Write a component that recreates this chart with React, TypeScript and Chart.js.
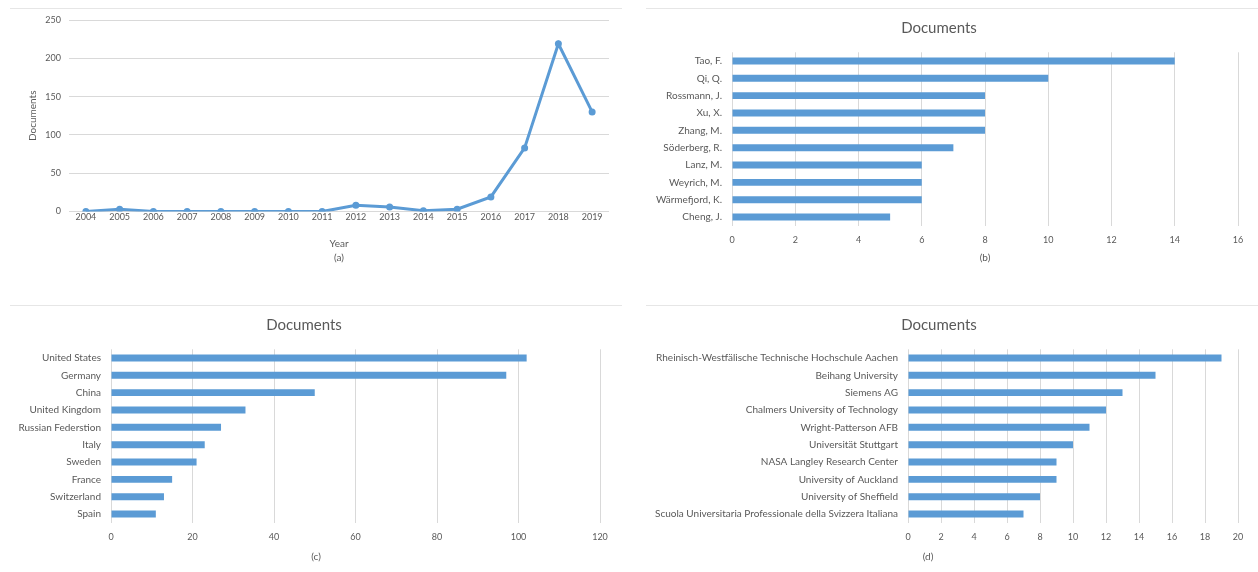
import React, { useEffect, useRef } from "react";
import { Chart, registerables } from "chart.js";

Chart.register(...registerables);

// ---------------- data ----------------
const years = ["2004", "2005", "2006", "2007", "2008", "2009", "2010", "2011", "2012", "2013", "2014", "2015", "2016", "2017", "2018", "2019"];
const yearDocs = [0, 3, 0, 0, 0, 0, 0, 0, 8, 6, 1, 3, 19, 83, 219, 130];

const authors = ["Tao, F.", "Qi, Q.", "Rossmann, J.", "Xu, X.", "Zhang, M.", "Söderberg, R.", "Lanz, M.", "Weyrich, M.", "Wärmefjord, K.", "Cheng, J."];
const authorDocs = [14, 10, 8, 8, 8, 7, 6, 6, 6, 5];

const countries = ["United States", "Germany", "China", "United Kingdom", "Russian Federstion", "Italy", "Sweden", "France", "Switzerland", "Spain"];
const countryDocs = [102, 97, 50, 33, 27, 23, 21, 15, 13, 11];

const affiliations = [
  "Rheinisch-Westfälische Technische Hochschule Aachen",
  "Beihang University",
  "Siemens AG",
  "Chalmers University of Technology",
  "Wright-Patterson AFB",
  "Universität Stuttgart",
  "NASA Langley Research Center",
  "University of Auckland",
  "University of Sheffield",
  "Scuola Universitaria Professionale della Svizzera Italiana",
];
const affiliationDocs = [19, 15, 13, 12, 11, 10, 9, 9, 8, 7];

const axisA = { max: 250, step: 50 };
const axisB = { max: 16, step: 2 };
const axisC = { max: 120, step: 20 };
const axisD = { max: 20, step: 2 };

const seriesTitle = "Documents";
const captions = ["(a)", "(b)", "(c)", "(d)"];

// ---------------- style ----------------
const FONT = "Lato, 'Open Sans', sans-serif";
const TEXT = "#595959";
const GRID = "#D9D9D9";
const BLUE = "#5B9BD5";

type Box = { l: number; t: number; r: number; b: number };

const captionPlugin = {
  id: "caption",
  afterDraw(chart: any, _args: any, opts: any) {
    const ctx = chart.ctx;
    ctx.save();
    ctx.font = `${opts.size}px ${FONT}`;
    ctx.fillStyle = TEXT;
    ctx.textAlign = "center";
    ctx.textBaseline = "middle";
    ctx.fillText(opts.text, opts.x, opts.y);
    ctx.restore();
  },
};

function lineConfig(C: Box, P: Box) {
  const xAxisH = 38;
  return {
    type: "line",
    data: {
      labels: years,
      datasets: [
        {
          label: seriesTitle,
          data: yearDocs,
          borderColor: BLUE,
          backgroundColor: BLUE,
          borderWidth: 3,
          pointRadius: 3.5,
          pointBorderWidth: 0,
          pointBackgroundColor: BLUE,
          tension: 0,
        },
      ],
    },
    options: {
      responsive: false,
      animation: false,
      devicePixelRatio: 1,
      layout: {
        padding: { left: 0, top: P.t - C.t, right: C.r - P.r, bottom: C.b - (P.b + xAxisH) },
      },
      plugins: {
        legend: { display: false },
        tooltip: { enabled: false },
        caption: { text: captions[0], x: 339 - C.l, y: 258 - C.t, size: 10 },
      },
      scales: {
        x: {
          offset: true,
          grid: { display: false, drawTicks: false },
          border: { display: false },
          ticks: { color: TEXT, font: { family: FONT, size: 9 }, padding: 0, maxRotation: 0, autoSkip: false },
          title: { display: true, text: "Year", color: TEXT, font: { family: FONT, size: 10 }, padding: 0 },
          afterFit: (s: any) => { s.height = xAxisH; },
        },
        y: {
          min: 0,
          max: axisA.max,
          grid: { color: GRID, drawTicks: false, lineWidth: 1 },
          border: { display: false },
          ticks: { stepSize: axisA.step, color: TEXT, font: { family: FONT, size: 9 }, padding: 8 },
          title: { display: true, text: seriesTitle, color: TEXT, font: { family: FONT, size: 10 }, padding: { top: 19, bottom: 0 } },
          afterFit: (s: any) => { s.width = P.l - C.l; },
        },
      },
    },
    plugins: [captionPlugin],
  };
}

function barConfig(C: Box, P: Box, labels: string[], values: number[], axis: { max: number; step: number }, cap: { text: string; x: number; y: number }, titleY: number) {
  const xAxisH = 30;
  const titleLH = 18; // 15px * 1.2
  const pt = titleY - C.t - titleLH / 2;
  const pb = P.t - C.t - pt - titleLH;
  return {
    type: "bar",
    data: {
      labels,
      datasets: [
        {
          label: seriesTitle,
          data: values,
          backgroundColor: BLUE,
          borderWidth: 0,
          barPercentage: 0.4,
          categoryPercentage: 1,
        },
      ],
    },
    options: {
      indexAxis: "y",
      responsive: false,
      animation: false,
      devicePixelRatio: 1,
      layout: {
        padding: { left: 0, top: 0, right: C.r - P.r, bottom: C.b - (P.b + xAxisH) },
      },
      plugins: {
        legend: { display: false },
        tooltip: { enabled: false },
        title: {
          display: true,
          text: seriesTitle,
          color: TEXT,
          font: { family: FONT, size: 15, weight: "normal", lineHeight: 1.2 },
          padding: { top: pt, bottom: pb },
        },
        caption: { text: cap.text, x: cap.x - C.l, y: cap.y - C.t, size: 10 },
      },
      scales: {
        x: {
          min: 0,
          max: axis.max,
          grid: { color: GRID, drawTicks: false, lineWidth: 1 },
          border: { display: false },
          ticks: { stepSize: axis.step, color: TEXT, font: { family: FONT, size: 9 }, padding: 9, maxRotation: 0 },
          afterFit: (s: any) => { s.height = xAxisH; },
        },
        y: {
          grid: { display: false, drawTicks: false },
          border: { display: false },
          ticks: { color: TEXT, font: { family: FONT, size: 10 }, padding: 10, autoSkip: false },
          afterFit: (s: any) => { s.width = P.l - C.l; },
        },
      },
    },
    plugins: [captionPlugin],
  };
}

function ChartCanvas({ box, make }: { box: Box; make: () => any }) {
  const ref = useRef<HTMLCanvasElement | null>(null);
  useEffect(() => {
    if (!ref.current) return;
    const chart = new Chart(ref.current, make());
    return () => chart.destroy();
  }, []);
  const w = box.r - box.l;
  const h = box.b - box.t;
  return (
    <canvas
      ref={ref}
      width={w}
      height={h}
      style={{ position: "absolute", left: box.l, top: box.t, width: w, height: h, display: "block" }}
    />
  );
}

function HLine({ x1, x2, y }: { x1: number; x2: number; y: number }) {
  return <div style={{ position: "absolute", left: x1, top: y, width: x2 - x1, height: 1, background: "#E6E6E6" }} />;
}

export default function App() {
  const cA: Box = { l: 8, t: 0, r: 622, b: 280 };
  const pA: Box = { l: 69, t: 20, r: 609, b: 211.5 };
  const cB: Box = { l: 640, t: 12, r: 1258, b: 280 };
  const pB: Box = { l: 732, t: 52.3, r: 1238, b: 225.7 };
  const cC: Box = { l: 8, t: 309, r: 622, b: 572 };
  const pC: Box = { l: 111, t: 349.3, r: 600, b: 522.7 };
  const cD: Box = { l: 640, t: 309, r: 1258, b: 572 };
  const pD: Box = { l: 908, t: 349.3, r: 1238, b: 522.7 };

  return (
    <div style={{ position: "fixed", left: 0, top: 0, width: 1258, height: 572, background: "#fff", overflow: "hidden" }}>
      <HLine x1={10} x2={622} y={8} />
      <HLine x1={646} x2={1258} y={8} />
      <HLine x1={10} x2={622} y={305} />
      <HLine x1={646} x2={1258} y={305} />
      <ChartCanvas box={cA} make={() => lineConfig(cA, pA)} />
      <ChartCanvas box={cB} make={() => barConfig(cB, pB, authors, authorDocs, axisB, { text: captions[1], x: 985, y: 258 }, 28)} />
      <ChartCanvas box={cC} make={() => barConfig(cC, pC, countries, countryDocs, axisC, { text: captions[2], x: 316, y: 557 }, 325)} />
      <ChartCanvas box={cD} make={() => barConfig(cD, pD, affiliations, affiliationDocs, axisD, { text: captions[3], x: 928, y: 557 }, 325)} />
    </div>
  );
}
